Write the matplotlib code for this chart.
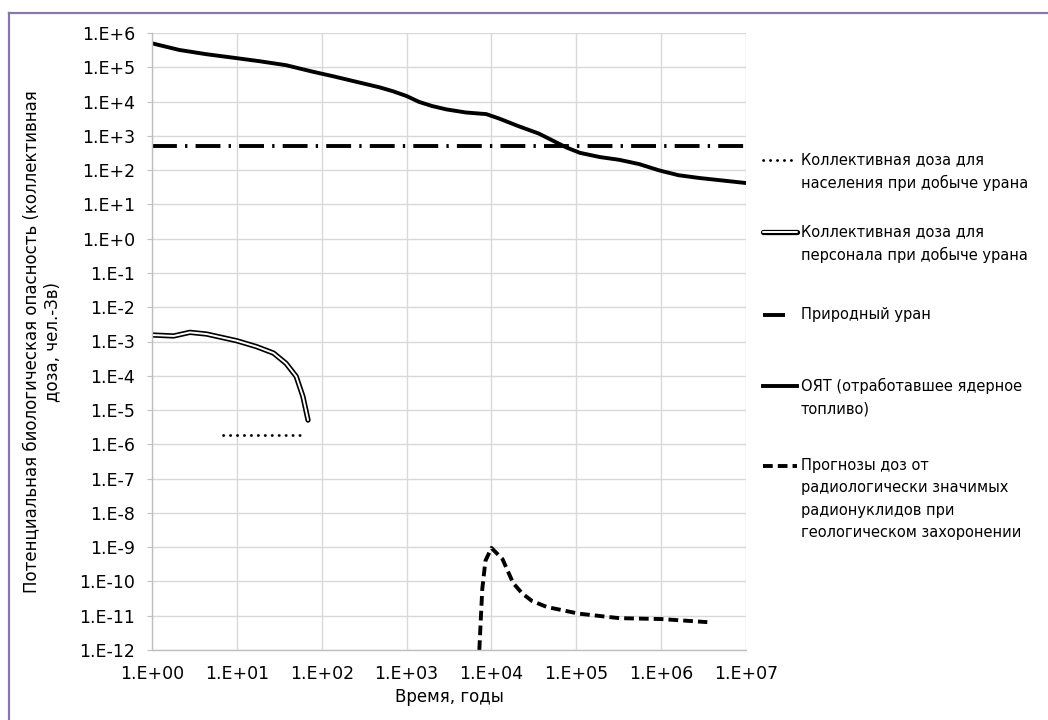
import math

import matplotlib
matplotlib.use("Agg")
import matplotlib.pyplot as plt
from matplotlib.lines import Line2D
from matplotlib.ticker import FixedLocator, FuncFormatter, NullLocator

plt.rcParams["font.family"] = ["DejaVu Sans"]

# --- data ---
snf_years = [1, 2.1, 4.4, 9.1, 18.6, 38, 79, 135, 480, 690, 1000, 1400,
             2000, 2950, 5000, 8700, 1.23e4, 2.1e4, 3.6e4, 5.2e4, 7.6e4,
             1.1e5, 1.9e5, 3.2e5, 5.5e5, 9.5e5, 1.6e6, 2.8e6, 1e7]
snf_dose = [5.0e5, 3.2e5, 2.4e5, 1.9e5, 1.5e5, 1.15e5, 7.4e4, 5.5e4,
            2.6e4, 2.0e4, 1.45e4, 9.8e3, 7.4e3, 5.9e3, 4.8e3, 4.3e3, 3.2e3,
            1.9e3, 1.17e3, 7.4e2, 4.6e2, 3.2e2, 2.4e2, 2.0e2, 1.5e2, 98, 71,
            59, 42]

staff_years = [1, 1.8, 2.8, 4.4, 10, 17, 27, 38, 50, 60, 69]
staff_dose = [1.55e-3, 1.45e-3, 1.85e-3, 1.65e-3, 1.05e-3, 7.1e-4, 4.6e-4,
              2.3e-4, 9.6e-5, 2.5e-5, 5.1e-6]

public_years = [6.8, 62]
public_dose = [1.9e-6, 1.9e-6]

nat_u_years = [1, 1e7]
nat_u_dose = [500, 500]

repo_years = [7.2e3, 7.8e3, 8.5e3, 1.0e4, 1.35e4, 1.8e4, 2.3e4, 3.0e4, 4.5e4,
              1.07e5, 3.2e5, 1.0e6, 3.5e6]
repo_dose = [1e-12, 6e-11, 4e-10, 9.5e-10, 4.5e-10, 9e-11, 4.5e-11, 2.7e-11,
             1.8e-11, 1.15e-11, 8.5e-12, 8e-12, 6.5e-12]

x_exps = list(range(0, 8))
y_exps = list(range(-12, 7))

labels = [
    "Коллективная доза для\nнаселения при добыче урана",
    "Коллективная доза для\nперсонала при добыче урана",
    "Природный уран",
    "ОЯТ (отработавшее ядерное\nтопливо)",
    "Прогнозы доз от\nрадиологически значимых\nрадионуклидов при\nгеологическом захоронении",
]

# --- styles ---
dotted = dict(color="black", lw=2.0, linestyle=(0, (0.1, 2.4)),
              dash_capstyle="round")
outer = dict(color="black", lw=3.8, solid_capstyle="round",
             solid_joinstyle="round")
inner = dict(color="white", lw=1.4, solid_capstyle="round",
             solid_joinstyle="round")
dashdot = dict(color="black", lw=2.8, linestyle=(0, (6.4, 2.1, 0.6, 2.1)))
solid = dict(color="black", lw=2.8, solid_joinstyle="round")
dashed = dict(color="black", lw=2.8, linestyle=(0, (2.5, 1.3)))


def log_label(fmt):
    return FuncFormatter(lambda v, p: fmt.format(int(round(math.log10(v)))))


W, H = 1048, 720
fig = plt.figure(figsize=(W / 100, H / 100), dpi=100)
ax = fig.add_axes([152 / W, 1 - 650 / H, (746 - 152) / W, (650 - 33) / H])

ax.plot(public_years, public_dose, **dotted)
ax.plot(staff_years, staff_dose, **outer)
ax.plot(staff_years, staff_dose, **inner)
ax.plot(nat_u_years, nat_u_dose, **dashdot)
ax.plot(snf_years, snf_dose, **solid)
ax.plot(repo_years, repo_dose, **dashed)

ax.set_xscale("log")
ax.set_yscale("log")
ax.set_xlim(1, 1e7)
ax.set_ylim(1e-12, 1e6)

ax.xaxis.set_major_locator(FixedLocator([10.0 ** e for e in x_exps]))
ax.yaxis.set_major_locator(FixedLocator([10.0 ** e for e in y_exps]))
ax.xaxis.set_minor_locator(NullLocator())
ax.yaxis.set_minor_locator(NullLocator())
ax.xaxis.set_major_formatter(log_label("1.E+{:02d}"))
ax.yaxis.set_major_formatter(log_label("1.E{:+d}"))

ax.grid(True, color="#d9d9d9", lw=1.0)
ax.set_axisbelow(True)
for side in ("top", "right"):
    ax.spines[side].set_visible(False)
for side in ("left", "bottom"):
    ax.spines[side].set_color("#bfbfbf")
    ax.spines[side].set_linewidth(1.0)
ax.tick_params(axis="y", length=3.6, color="#bfbfbf", labelsize=12.5, pad=8.5)
ax.tick_params(axis="x", length=0, labelsize=12.5, pad=11)

ax.set_xlabel("Время, годы", fontsize=12, va="center")
ax.xaxis.set_label_coords(0.5, (650 - 697) / 617)
ax.set_ylabel("Потенциальная биологическая опасность (коллективная\nдоза, чел.-Зв)",
              fontsize=12, va="center", linespacing=1.2)
ax.yaxis.set_label_coords((42 - 152) / 594, 0.5)

# --- legend, drawn by hand so the swatch sits on the first text line ---
swatches = [[dotted], [outer, inner], [dashdot], [solid], [dashed]]
swatch_end = [797, 797, 785, 797, 797]
first_line_y = [160, 232, 315, 386, 466]
for style_list, label, py, x1 in zip(swatches, labels, first_line_y, swatch_end):
    yf = 1 - py / H
    for st in style_list:
        fig.add_artist(Line2D([763 / W, x1 / W], [yf, yf],
                              transform=fig.transFigure, **st))
    fig.text(801 / W, 1 - (py - 8) / H, label, fontsize=10.5, va="top",
             ha="left", linespacing=1.62)

# frame lines at the top and left edge of the picture
frame = "#8878a8"
fig.add_artist(Line2D([9 / W, 1], [1 - 13 / H, 1 - 13 / H],
                      transform=fig.transFigure, color=frame, lw=1.6))
fig.add_artist(Line2D([9 / W, 9 / W], [0, 1 - 13 / H],
                      transform=fig.transFigure, color=frame, lw=1.6))

fig.savefig("out.png", dpi=100)
